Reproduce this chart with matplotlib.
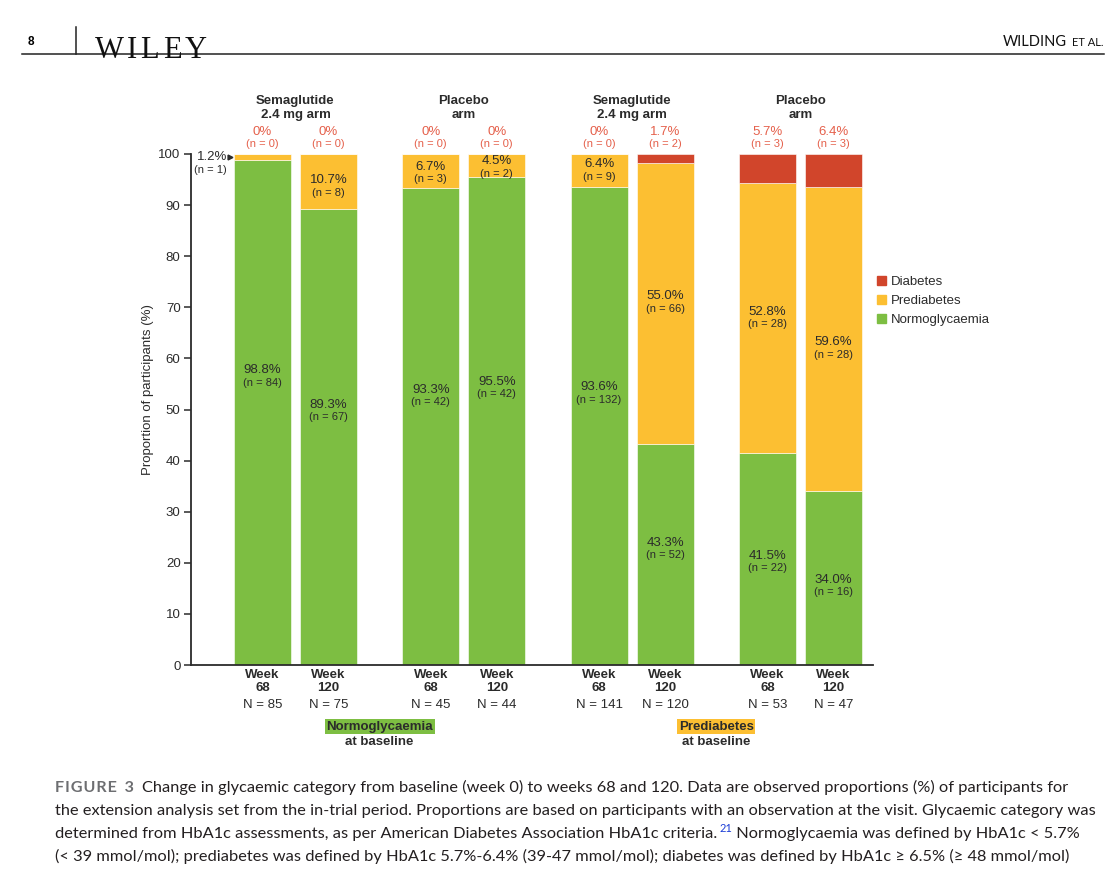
import numpy as np
import matplotlib.pyplot as plt
from matplotlib.patches import Patch
from matplotlib.lines import Line2D
from matplotlib import transforms

plt.rcParams['font.family'] = ['Liberation Sans', 'DejaVu Sans']

# data
group_titles = [("Semaglutide", "2.4 mg arm"), ("Placebo", "arm"),
                ("Semaglutide", "2.4 mg arm"), ("Placebo", "arm")]
weeks = ["68", "120", "68", "120", "68", "120", "68", "120"]
n_total = [85, 75, 45, 44, 141, 120, 53, 47]
normo_pct = [98.8, 89.3, 93.3, 95.5, 93.6, 43.3, 41.5, 34.0]
normo_n = [84, 67, 42, 42, 132, 52, 22, 16]
pre_pct = [1.2, 10.7, 6.7, 4.5, 6.4, 55.0, 52.8, 59.6]
pre_n = [1, 8, 3, 2, 9, 66, 28, 28]
diab_pct = [0, 0, 0, 0, 0, 1.7, 5.7, 6.4]
diab_n = [0, 0, 0, 0, 0, 2, 3, 3]
baseline_groups = ["Normoglycaemia", "Prediabetes"]

# colours / layout
GREEN = '#7dbe42'
YELLOW = '#fcbf32'
RED = '#d1452b'
RED_TXT = '#e5604b'
DARK = '#2b2b2b'
normo_frac = [0.584, 0.570, 0.577, 0.580, 0.581, 0.552, 0.515, 0.49]
pre_frac = [0.5, 0.52, 0.63, 0.69, 0.69, 0.525, 0.523, 0.49]

W, H = 1119, 883
fig = plt.figure(figsize=(W / 100, H / 100), dpi=100)


def fx(px):
    return px / W


def fy(py):
    return 1 - py / H


# ---- page header
fig.text(fx(28), fy(45), '8', fontsize=8.5, fontweight='bold', va='baseline')
fig.add_artist(Line2D([fx(22), fx(1104)], [fy(54), fy(54)], color='#222', lw=1.1))
fig.add_artist(Line2D([fx(76), fx(76)], [fy(27), fy(54)], color='#222', lw=1.1))
for ch, px in zip("WILEY", [95, 127, 140, 163, 185]):
    fig.text(fx(px), fy(58), ch, family='Liberation Serif', fontsize=22,
             va='baseline', color='#111')
fig.text(fx(1067), fy(46), 'WILDING', family='Lato', fontsize=10.5,
         ha='right', va='baseline', color='#111')
fig.text(fx(1104), fy(46), 'ET AL.', family='Lato', fontsize=8,
         ha='right', va='baseline', color='#111')

# ---- chart
ax = fig.add_axes([fx(191), fy(665), (873 - 191) / W, 511 / H])
x = np.array([g * 2.55 + i for g in range(4) for i in range(2)])
w = 0.865
normo = np.array(normo_pct)
pre = np.array(pre_pct)
diab = np.array(diab_pct)

ax.bar(x, normo, w, color=GREEN, edgecolor='white', linewidth=0.4, label='Normoglycaemia')
ax.bar(x, pre, w, bottom=normo, color=YELLOW, edgecolor='white', linewidth=0.4, label='Prediabetes')
ax.bar(x, diab, w, bottom=normo + pre, color=RED, edgecolor='white', linewidth=0.4, label='Diabetes')

ax.set_xlim(-1.083, 9.25)
ax.set_ylim(0, 100)
ax.set_yticks(range(0, 101, 10))
ax.set_xticks([])
ax.tick_params(axis='y', length=5, width=1.1, pad=2.5, labelsize=9.5,
               color=DARK, labelcolor=DARK)
for s in ['top', 'right']:
    ax.spines[s].set_visible(False)
for s in ['left', 'bottom']:
    ax.spines[s].set_linewidth(1.3)
    ax.spines[s].set_color(DARK)

fig.text(fx(148), fy(390), 'Proportion of participants (%)', rotation=90,
         ha='center', va='center', fontsize=9.5, color=DARK)


def fmt(v):
    return f"{v:.1f}%" if v else "0%"


def pair(xv, yv, pct, n, color=DARK, dx=0, ha='center'):
    ax.annotate(pct, (xv, yv), xytext=(dx, 0), textcoords='offset points',
                ha=ha, va='center', fontsize=9.5, color=color, annotation_clip=False)
    ax.annotate(f"(n = {n})", (xv, yv), xytext=(dx, -9), textcoords='offset points',
                ha=ha, va='center', fontsize=8, color=color, annotation_clip=False)


for i in range(len(x)):
    # normoglycaemia labels
    pair(x[i], normo[i] * normo_frac[i], fmt(normo[i]), normo_n[i])
    # prediabetes labels
    if i == 0:
        yl = 100 - pre[i] / 2
        pair(x[i] - w / 2, yl, fmt(pre[i]), pre_n[i], dx=-5, ha='right')
        tr = transforms.offset_copy(ax.transData, fig=fig, x=-2.5, y=0, units='points')
        ax.plot([x[i] - w / 2], [yl], marker='>', ms=3.5, color=DARK,
                transform=tr, clip_on=False)
    else:
        pair(x[i], normo[i] + pre[i] * pre_frac[i], fmt(pre[i]), pre_n[i])
    # diabetes labels above bars
    ax.annotate(fmt(diab[i]), (x[i], 100), xytext=(0, 16), textcoords='offset points',
                ha='center', va='center', fontsize=9.5, color=RED_TXT, annotation_clip=False)
    ax.annotate(f"(n = {diab_n[i]})", (x[i], 100), xytext=(0, 7.5), textcoords='offset points',
                ha='center', va='center', fontsize=8, color=RED_TXT, annotation_clip=False)
    # bottom labels
    ax.annotate("Week", (x[i], 0), xytext=(0, -7), textcoords='offset points',
                ha='center', va='center', fontsize=9.5, fontweight='bold', color=DARK,
                annotation_clip=False)
    ax.annotate(weeks[i], (x[i], 0), xytext=(0, -16.5), textcoords='offset points',
                ha='center', va='center', fontsize=9.5, fontweight='bold', color=DARK,
                annotation_clip=False)
    ax.annotate(f"N = {n_total[i]}", (x[i], 0), xytext=(0, -28.5), textcoords='offset points',
                ha='center', va='center', fontsize=9.5, color=DARK, annotation_clip=False)

for g, (t1, t2) in enumerate(group_titles):
    xc = (x[2 * g] + x[2 * g + 1]) / 2
    ax.annotate(t1, (xc, 100), xytext=(0, 38.5), textcoords='offset points', ha='center',
                va='center', fontsize=9.5, fontweight='bold', color=DARK, annotation_clip=False)
    ax.annotate(t2, (xc, 100), xytext=(0, 28.3), textcoords='offset points', ha='center',
                va='center', fontsize=9.5, fontweight='bold', color=DARK, annotation_clip=False)

for k, (name, col) in enumerate(zip(baseline_groups, [GREEN, YELLOW])):
    xc = (x[4 * k] + x[4 * k + 3]) / 2
    ax.annotate(name, (xc, 0), xytext=(0, -44.3), textcoords='offset points', ha='center',
                va='center', fontsize=9.5, fontweight='bold', color=DARK, annotation_clip=False,
                bbox=dict(boxstyle='square,pad=0.12', fc=col, ec='none'))
    ax.annotate("at baseline", (xc, 0), xytext=(0, -55.6), textcoords='offset points',
                ha='center', va='center', fontsize=9.5, fontweight='bold', color=DARK,
                annotation_clip=False)

handles = [Patch(color=RED, label='Diabetes'), Patch(color=YELLOW, label='Prediabetes'),
           Patch(color=GREEN, label='Normoglycaemia')]
fig.legend(handles=handles, loc='upper left', bbox_to_anchor=(fx(865), fy(264)),
           frameon=False, fontsize=9.5, handlelength=0.7, handleheight=0.7,
           handletextpad=0.35, labelspacing=0.5, labelcolor=DARK)

# ---- caption
cap = dict(family=['Lato', 'DejaVu Sans'], fontsize=11.8, color='#231f20', va='baseline')
fig.text(fx(55), fy(792), '\u200a'.join('FIGURE') + '  3',
         family=['Lato', 'DejaVu Sans'], fontsize=11.6,
         fontweight='bold', color='#6d6e71', va='baseline')
fig.text(fx(142), fy(792), 'Change in glycaemic category from baseline (week 0) to weeks 68 and 120. '
         'Data are observed proportions (%) of participants for', **cap)
fig.text(fx(55), fy(815), 'the extension analysis set from the in-trial period. Proportions are based '
         'on participants with an observation at the visit. Glycaemic category was', **cap)
t3 = fig.text(fx(55), fy(838), 'determined from HbA1c assessments, as per American Diabetes '
              'Association HbA1c criteria.', **cap)
r = fig.canvas.get_renderer()
xe = t3.get_window_extent(renderer=r).x1 / W
sup = fig.text(xe + 2 / W, fy(832), '21', family=['Lato', 'DejaVu Sans'], fontsize=8,
               color='#1a3cd6', va='baseline')
xe2 = sup.get_window_extent(renderer=r).x1 / W
fig.text(xe2, fy(838), ' Normoglycaemia was defined by HbA1c < 5.7%', **cap)
fig.text(fx(55), fy(861), '(< 39 mmol/mol); prediabetes was defined by HbA1c 5.7%-6.4% '
         '(39-47 mmol/mol); diabetes was defined by HbA1c \u2265 6.5% (\u2265 48 mmol/mol)', **cap)

fig.savefig('out.png', dpi=100)
